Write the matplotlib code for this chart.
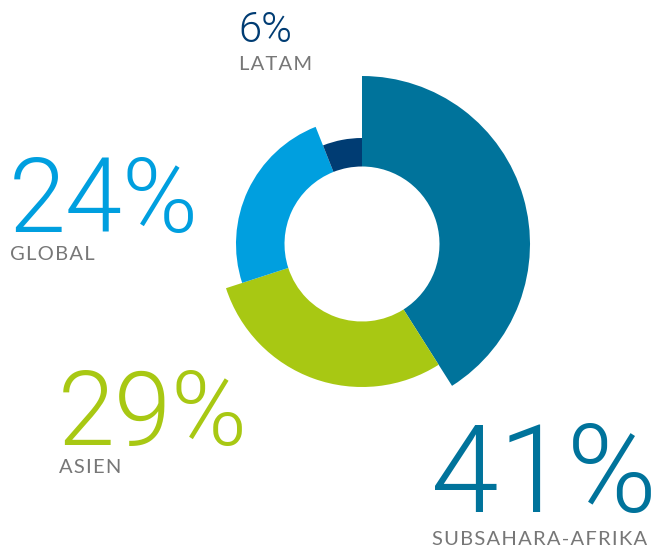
import matplotlib
matplotlib.use("Agg")
import matplotlib.pyplot as plt
from matplotlib.patches import Wedge
import numpy as np

# data
regions = ["SUBSAHARA-AFRIKA", "ASIEN", "GLOBAL", "LATAM"]
shares = [41, 29, 24, 6]
outer_radii = [168, 143, 126, 106]   # each ring segment reaches out to a different radius
colors = ["#00739B", "#A8C813", "#009FDF", "#003C73"]

W, H = 662, 547
fig = plt.figure(figsize=(W / 100, H / 100), dpi=100)
ax = fig.add_axes([0, 0, 1, 1])
ax.set_xlim(0, W)
ax.set_ylim(0, H)
ax.set_aspect("equal")
ax.axis("off")

center = (362, H - 244)
inner_r = 77.5

# clockwise from 12 o'clock
starts = 90 - 360 * np.concatenate([[0], np.cumsum(shares)[:-1]]) / sum(shares)
ends = starts - 360 * np.array(shares) / sum(shares)
for s, e, r, c in zip(starts, ends, outer_radii, colors):
    ax.add_patch(Wedge(center, r, e, s, width=r - inner_r, facecolor=c, edgecolor="none"))

gray = "#777777"
# x, number size, number baseline, label baseline (pixels from top-left)
layout = {
    "LATAM": (238, 30, 42, 70),
    "GLOBAL": (9, 74, 232, 260),
    "ASIEN": (58, 74, 445, 473),
    "SUBSAHARA-AFRIKA": (431, 88, 512, 545),
}
for name, share, c in zip(regions, shares, colors):
    x, size, ybase, ylab = layout[name]
    ax.text(x, H - ybase, f"{share}%", fontsize=size, color=c,
            family=["Roboto", "DejaVu Sans"], fontweight=300, ha="left", va="baseline")
    ax.text(x + 1, H - ylab, "\u200a".join(name), fontsize=14.5, color=gray,
            family=["Lato", "DejaVu Sans"], ha="left", va="baseline")

fig.savefig("out.png", dpi=100)
